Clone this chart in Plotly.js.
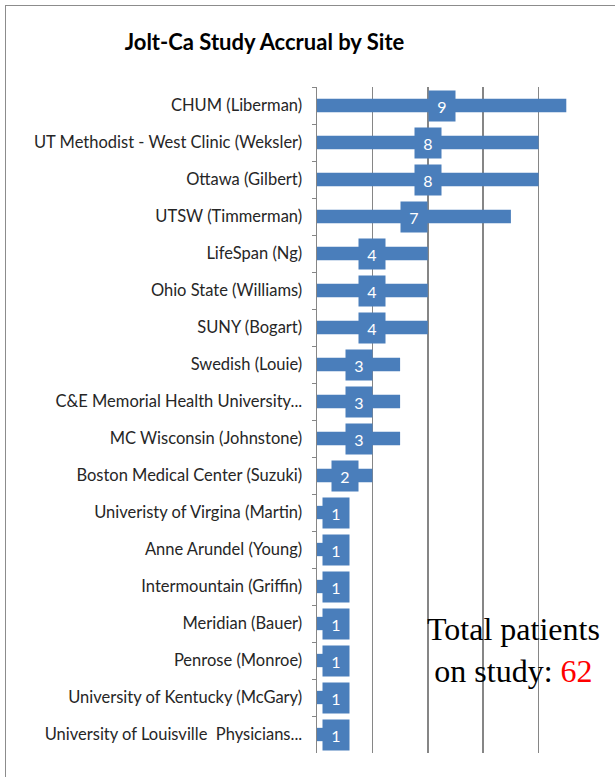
<!DOCTYPE html>
<html>
<head>
<meta charset="utf-8">
<script src="https://cdn.plot.ly/plotly-3.0.1.min.js"></script>
<style>
  html, body { margin: 0; padding: 0; background: #ffffff; }
  #chart { width: 615px; height: 777px; position: relative; }
  #frame { position: absolute; left: 5px; top: 5px; width: 620px; height: 790px;
           border-left: 1.5px solid #8c8c8c; border-top: 1.5px solid #8c8c8c;
           pointer-events: none; box-sizing: border-box; }
</style>
</head>
<body>
<div id="chart"></div>
<div id="frame"></div>
<script>
const sites = [
  "CHUM (Liberman)",
  "UT Methodist - West Clinic (Weksler)",
  "Ottawa (Gilbert)",
  "UTSW (Timmerman)",
  "LifeSpan (Ng)",
  "Ohio State (Williams)",
  "SUNY (Bogart)",
  "Swedish (Louie)",
  "C&E Memorial Health University...",
  "MC Wisconsin (Johnstone)",
  "Boston Medical Center (Suzuki)",
  "Univeristy of Virgina (Martin)",
  "Anne Arundel (Young)",
  "Intermountain (Griffin)",
  "Meridian (Bauer)",
  "Penrose (Monroe)",
  "University of Kentucky (McGary)",
  "University of Louisville  Physicians..."
];
const patients = [9, 8, 8, 7, 4, 4, 4, 3, 3, 3, 2, 1, 1, 1, 1, 1, 1, 1];

const barColor = "#4a7ebb";
const total = patients.reduce((a, b) => a + b, 0);

const labelFont = "Lato, 'Open Sans', sans-serif";

const xMax = 10;
const plotLeft = 317, plotRight = 594;
const pxPerUnit = (plotRight - plotLeft) / xMax;

const trace = {
  type: "bar",
  orientation: "h",
  y: sites,
  x: patients,
  width: 0.36,
  marker: { color: barColor },
  hoverinfo: "x+y"
};

// value label boxes, centred on each bar; nudged right when they would touch the axis
const valueBoxes = sites.map((s, i) => {
  const centrePx = patients[i] / 2 * pxPerUnit;
  return {
    x: patients[i] / 2,
    y: s,
    xref: "x",
    yref: "y",
    text: String(patients[i]),
    showarrow: false,
    bgcolor: barColor,
    width: 22,
    height: 26,
    borderpad: 2,
    xshift: centrePx < 19 ? 19 - centrePx : 0,
    font: { family: labelFont, size: 16, color: "#ffffff" }
  };
});

const totalNote = {
  xref: "paper",
  yref: "paper",
  x: 0.711,
  y: 0.155,
  xanchor: "center",
  yanchor: "middle",
  showarrow: false,
  text: "Total patients<br>on study: <span style='color:#ff0000'>" + total + "</span>",
  font: { family: "'Liberation Serif', 'Times New Roman', serif", size: 32, color: "#000000" }
};

const layout = {
  width: 615,
  height: 777,
  margin: { l: plotLeft, r: 615 - plotRight, t: 87, b: 24 },
  paper_bgcolor: "#ffffff",
  plot_bgcolor: "#ffffff",
  showlegend: false,
  title: {
    text: "<b>Jolt-Ca Study Accrual by Site</b>",
    font: { family: labelFont, size: 22, color: "#000000" },
    x: 0.43,
    xanchor: "center",
    y: 0.946,
    yanchor: "middle"
  },
  xaxis: {
    range: [0, xMax],
    dtick: 2,
    tick0: 0,
    showgrid: true,
    gridcolor: "#868686",
    gridwidth: 1.5,
    showticklabels: false,
    ticks: "",
    zeroline: false,
    showline: false,
    fixedrange: true
  },
  yaxis: {
    type: "category",
    autorange: "reversed",
    tickson: "boundaries",
    ticks: "outside",
    ticklen: 4,
    tickcolor: "#868686",
    tickwidth: 1,
    ticklabelstandoff: 10,
    showline: true,
    linecolor: "#868686",
    linewidth: 1.5,
    showgrid: false,
    tickfont: { family: labelFont, size: 16.5, color: "#262626" },
    fixedrange: true
  },
  annotations: valueBoxes.concat([totalNote])
};

Plotly.newPlot("chart", [trace], layout, { displayModeBar: false, staticPlot: true });
</script>
</body>
</html>
